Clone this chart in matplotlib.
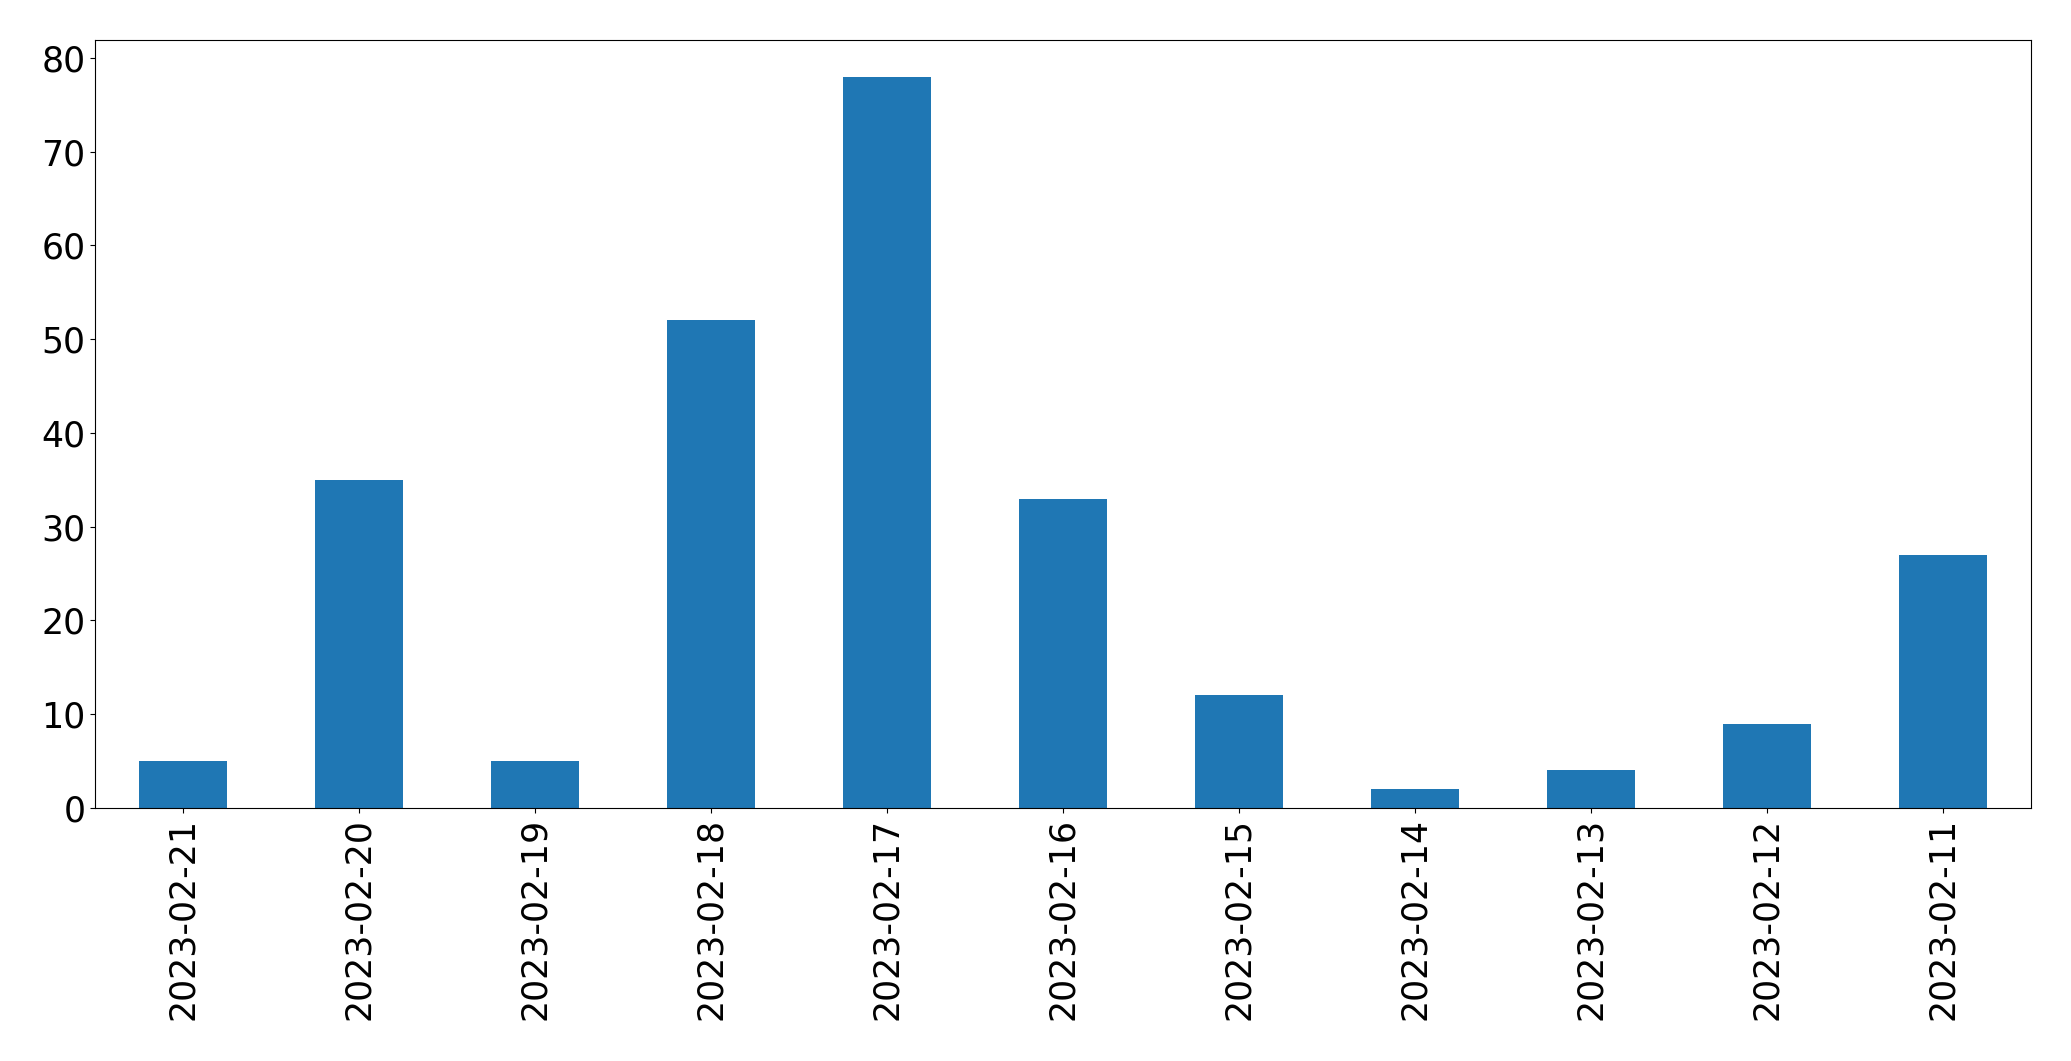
import pandas as pd
import matplotlib
matplotlib.use("Agg")
import matplotlib.pyplot as plt

dates = ["2023-02-21", "2023-02-20", "2023-02-19", "2023-02-18", "2023-02-17",
         "2023-02-16", "2023-02-15", "2023-02-14", "2023-02-13", "2023-02-12",
         "2023-02-11"]
counts = [5, 35, 5, 52, 78, 33, 12, 2, 4, 9, 27]

series = pd.Series(counts, index=dates)

fig = plt.figure(figsize=(20.71, 10.61), dpi=100)
ax = fig.add_axes([0.0459, 0.2385, 0.9348, 0.7238])
series.plot.bar(ax=ax, color="#1f77b4", fontsize=25)
fig.savefig("out.png", dpi=100)
plt.close(fig)
